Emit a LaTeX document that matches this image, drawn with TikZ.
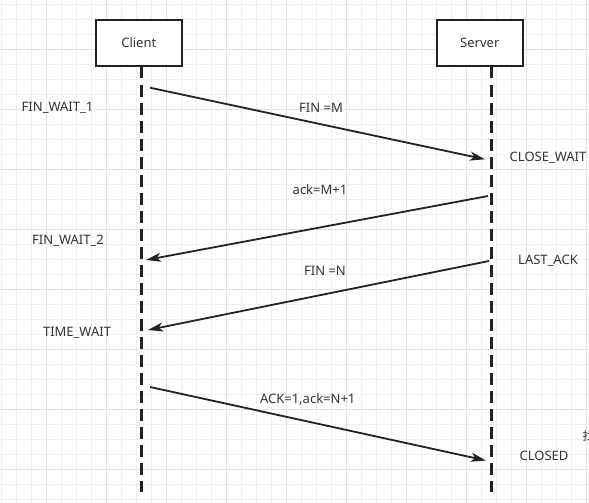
\documentclass[tikz,border=0pt]{standalone}
\usepackage{fontspec}
\setmainfont{Noto Sans}
\newfontfamily\cjkfont{Noto Sans CJK SC}
\usetikzlibrary{arrows.meta}
\definecolor{ink}{HTML}{222222}
\definecolor{txt}{HTML}{333333}
\definecolor{gminor}{HTML}{EFEFEF}
\definecolor{gmajor}{HTML}{E2E2E2}
\tikzset{
  actor/.style={draw=ink, line width=2pt, fill=white, minimum width=86pt, minimum height=46pt, inner sep=0pt, text=txt, font=\fontsize{13}{15}\selectfont},
  lifeline/.style={draw=ink, line width=3.5pt, dash pattern=on 12pt off 6pt},
  msg/.style={draw=ink, line width=1.8pt, -{Stealth[length=15pt,width=9pt,inset=4pt]}},
  lbl/.style={text=txt, font=\fontsize{13}{15}\selectfont, inner sep=0pt}
}
\begin{document}
\begin{tikzpicture}[x=1pt,y=-1pt]
\useasboundingbox (0,0) rectangle (589,503);
\fill[white] (0,0) rectangle (589,503);
% grid
\begin{scope}
\clip (0,0) rectangle (589,503);
\foreach \i in {0,...,39} {
  \draw[gminor, line width=1pt] ({1.7+15*\i},0) -- ({1.7+15*\i},503);
}
\foreach \i in {0,...,33} {
  \draw[gminor, line width=1pt] (0,{4.3+15*\i}) -- (589,{4.3+15*\i});
}
\foreach \i in {0,...,9} {
  \draw[gmajor, line width=1pt] ({46.7+60*\i},0) -- ({46.7+60*\i},503);
}
\foreach \i in {0,...,8} {
  \draw[gmajor, line width=1pt] (0,{-10.7+60*\i}) -- (589,{-10.7+60*\i});
}
\node[anchor=west, inner sep=0pt, text=txt, font=\cjkfont\fontsize{12}{14}\selectfont] (frag) at (582.5,436) {找};
\end{scope}
% actors
\node[actor] (client) at (138.8,43) {Client};
\node[actor] (server) at (479.8,43) {Server};
% lifelines
\coordinate (ct) at (141.7,66.5);
\coordinate (cb) at (141.7,492);
\coordinate (st) at (491.3,66.5);
\coordinate (sb) at (491.3,492);
\draw[lifeline] (ct) -- (cb);
\draw[lifeline] (st) -- (sb);
% message endpoints
\coordinate (m1s) at (150,87.7);
\coordinate (m1e) at (485,159.3);
\coordinate (m2s) at (488,196);
\coordinate (m2e) at (146,260);
\coordinate (m3s) at (489,261);
\coordinate (m3e) at (148,330);
\coordinate (m4s) at (150,387);
\coordinate (m4e) at (486,460.5);
\draw[msg] (m1s) -- (m1e);
\draw[msg] (m2s) -- (m2e);
\draw[msg] (m3s) -- (m3e);
\draw[msg] (m4s) -- (m4e);
% message labels
\node[lbl] (l1) at (321,108) {FIN =M};
\node[lbl] (l2) at (320,189.5) {ack=M+1};
\node[lbl] (l3) at (325,270.5) {FIN =N};
\node[lbl] (l4) at (307.7,399) {ACK=1,ack=N+1};
% states
\node[lbl] (s1) at (57.5,108) {FIN\_WAIT\_1};
\node[lbl] (s2) at (548,158) {CLOSE\_WAIT};
\node[lbl] (s3) at (68,241) {FIN\_WAIT\_2};
\node[lbl] (s4) at (548,260.5) {LAST\_ACK};
\node[lbl] (s5) at (77,332.5) {TIME\_WAIT};
\node[lbl] (s6) at (544,456) {CLOSED};
\end{tikzpicture}
\end{document}
